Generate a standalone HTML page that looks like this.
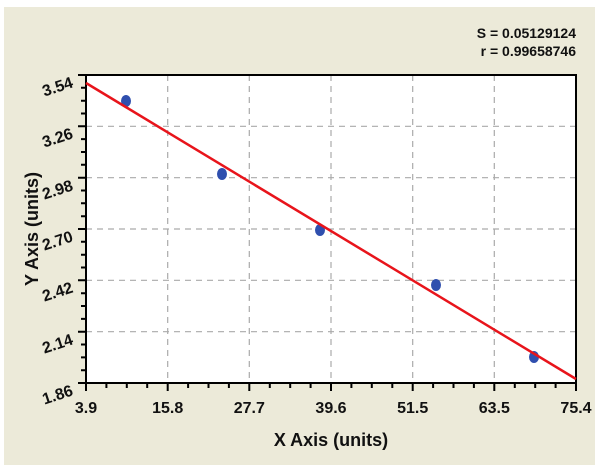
<!DOCTYPE html>
<html><head><style>body{margin:0;background:#fff}svg{display:block}</style></head><body>
<svg width="600" height="470" xmlns="http://www.w3.org/2000/svg" font-family="Liberation Sans, sans-serif" font-weight="bold">
<rect x="4" y="7" width="591" height="458" fill="#ecead9"/>
<rect x="86" y="75" width="490" height="308" fill="#fff"/>
<g stroke="#aaa" stroke-dasharray="6,5" stroke-width="1.2">
<line x1="167.7" y1="75" x2="167.7" y2="383"/><line x1="249.3" y1="75" x2="249.3" y2="383"/><line x1="331" y1="75" x2="331" y2="383"/><line x1="412.7" y1="75" x2="412.7" y2="383"/><line x1="494.3" y1="75" x2="494.3" y2="383"/>
<line x1="86" y1="126.3" x2="576" y2="126.3"/><line x1="86" y1="177.7" x2="576" y2="177.7"/><line x1="86" y1="229" x2="576" y2="229"/><line x1="86" y1="280.3" x2="576" y2="280.3"/><line x1="86" y1="331.7" x2="576" y2="331.7"/>
</g>
<rect x="86" y="75" width="490" height="308" fill="none" stroke="#000" stroke-width="2"/>
<path stroke="#000" stroke-width="2" d="M86,383v8 M167.7,383v8 M249.3,383v8 M331,383v8 M412.7,383v8 M494.3,383v8 M576,383v8
M106.4,383v5 M126.8,383v5 M147.2,383v5 M188.1,383v5 M208.5,383v5 M228.9,383v5 M269.8,383v5 M290.2,383v5 M310.6,383v5 M351.4,383v5 M371.8,383v5 M392.3,383v5 M433.1,383v5 M453.5,383v5 M473.9,383v5 M514.8,383v5 M535.2,383v5 M555.6,383v5
M78,75h8 M78,126.3h8 M78,177.7h8 M78,229h8 M78,280.3h8 M78,331.7h8 M78,383h8
M81,87.8h5 M81,100.7h5 M81,113.5h5 M81,139.1h5 M81,152h5 M81,164.8h5 M81,190.5h5 M81,203.3h5 M81,216.2h5 M81,241.8h5 M81,254.7h5 M81,267.5h5 M81,293.2h5 M81,306h5 M81,318.9h5 M81,344.5h5 M81,357.4h5 M81,370.2h5"/>
<g fill="#2f4fae"><ellipse cx="126" cy="101" rx="5" ry="6"/><ellipse cx="222" cy="174" rx="5" ry="6"/><ellipse cx="320" cy="230" rx="5" ry="6"/><ellipse cx="436" cy="285" rx="5" ry="6"/><ellipse cx="534" cy="357" rx="5" ry="6"/></g>
<line x1="86" y1="83" x2="576" y2="379" stroke="#e8141b" stroke-width="2.5"/>
<g font-size="16" text-anchor="middle" fill="#111">
<text x="86" y="413">3.9</text><text x="167.7" y="413">15.8</text><text x="249.3" y="413">27.7</text><text x="331" y="413">39.6</text><text x="412.7" y="413">51.5</text><text x="494.3" y="413">63.5</text><text x="576" y="413">75.4</text>
</g>
<g font-size="16" text-anchor="end" fill="#111">
<text transform="translate(74,87) rotate(-18)">3.54</text>
<text transform="translate(74,138) rotate(-18)">3.26</text>
<text transform="translate(74,190) rotate(-18)">2.98</text>
<text transform="translate(74,241) rotate(-18)">2.70</text>
<text transform="translate(74,292) rotate(-18)">2.42</text>
<text transform="translate(74,344) rotate(-18)">2.14</text>
<text transform="translate(74,395) rotate(-18)">1.86</text>
</g>
<g font-size="14" text-anchor="end" fill="#111"><text x="576" y="38">S = 0.05129124</text><text x="576" y="56">r = 0.99658746</text></g>
<text x="331" y="446" font-size="18" text-anchor="middle" fill="#111">X Axis (units)</text>
<text transform="translate(38,229) rotate(-90)" font-size="18" text-anchor="middle" fill="#111">Y Axis (units)</text>
</svg>
</body></html>
